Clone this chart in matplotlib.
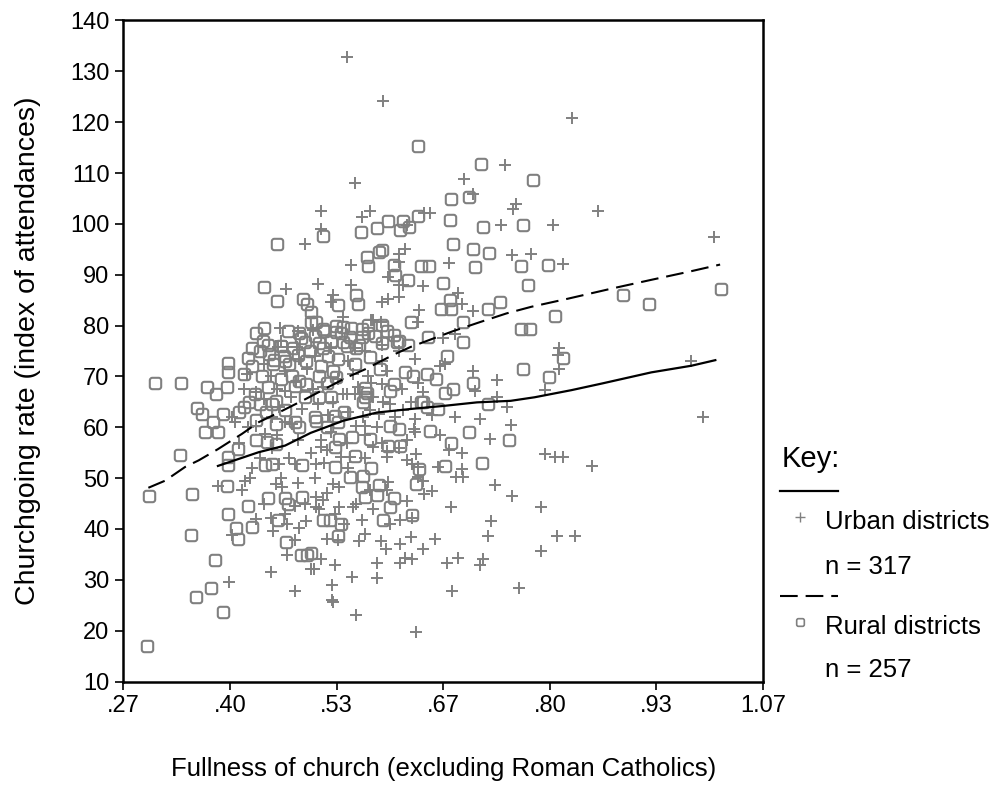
import matplotlib
matplotlib.use("Agg")
import matplotlib.pyplot as plt
from matplotlib.lines import Line2D
from matplotlib.markers import MarkerStyle
from matplotlib.path import Path

plt.rcParams['font.family'] = ['Liberation Sans', 'DejaVu Sans']

# x tick positions are multiples of 2/15 (labels rounded to 2 places)
x_ticks = [4 / 15, 6 / 15, 8 / 15, 10 / 15, 12 / 15, 14 / 15, 16 / 15]
x_labels = ['.27', '.40', '.53', '.67', '.80', '.93', '1.07']
y_ticks = list(range(10, 141, 10))

# Urban districts (+)
urban_points = [
    (0.547, 132.8), (0.592, 124.1), (0.744, 111.6), (0.693, 108.8), (0.556, 108.0), (0.828, 120.9),
    (0.494, 96.0), (0.470, 87.1), (0.463, 79.6), (0.460, 75.8), (0.471, 75.8), (0.484, 75.8),
    (0.704, 105.9), (0.758, 103.9), (0.754, 102.9), (0.514, 102.6), (0.565, 101.3), (0.575, 102.6),
    (0.643, 102.2), (0.650, 102.2), (0.621, 99.7), (0.739, 99.8), (0.514, 99.0), (0.753, 93.8),
    (0.777, 94.1), (0.619, 95.1), (0.552, 92.0), (0.611, 94.1), (0.611, 92.5), (0.674, 92.4),
    (0.510, 88.1), (0.552, 87.9), (0.598, 89.6), (0.611, 87.9), (0.616, 87.9), (0.641, 87.8),
    (0.685, 86.5), (0.529, 86.1), (0.527, 84.7), (0.590, 84.7), (0.598, 85.3), (0.611, 85.6),
    (0.690, 84.3), (0.704, 82.8), (0.637, 83.0), (0.635, 80.7), (0.589, 80.7), (0.579, 81.1),
    (0.667, 77.5), (0.681, 78.3), (0.504, 79.1), (0.542, 81.7), (0.577, 81.1), (0.556, 75.5),
    (0.590, 76.2),
    (0.860, 102.6), (0.804, 99.7), (1.005, 97.4), (0.817, 92.2), (0.812, 75.5),
    (0.421, 70.4), (0.402, 62.0), (0.385, 48.4), (0.419, 49.5), (0.425, 50.0), (0.415, 47.6),
    (0.457, 48.9), (0.465, 48.2), (0.482, 44.6), (0.494, 45.0), (0.461, 52.8), (0.481, 52.8),
    (0.444, 58.7), (0.459, 58.4), (0.433, 60.3), (0.452, 62.0), (0.469, 61.0), (0.478, 60.6),
    (0.461, 63.9), (0.469, 67.2), (0.486, 73.4),
    (0.399, 29.6), (0.402, 38.9), (0.451, 42.2), (0.454, 39.6), (0.471, 40.9), (0.486, 40.2),
    (0.482, 37.9), (0.471, 34.8), (0.451, 31.5), (0.481, 27.8), (0.501, 32.1),
    (0.727, 41.5), (0.723, 38.7), (0.656, 38.1), (0.562, 37.7), (0.589, 37.7), (0.613, 37.1),
    (0.521, 38.1), (0.535, 37.9), (0.565, 41.8), (0.600, 40.9), (0.613, 41.8), (0.628, 42.2),
    (0.514, 34.0), (0.531, 33.0), (0.505, 32.1), (0.584, 33.4), (0.613, 33.4), (0.619, 34.3),
    (0.628, 34.0), (0.671, 33.4), (0.685, 34.3), (0.713, 33.0), (0.716, 34.0), (0.553, 30.6),
    (0.584, 30.3), (0.528, 28.9), (0.528, 26.1), (0.529, 25.7), (0.558, 23.1), (0.633, 19.8),
    (0.678, 27.8), (0.761, 28.3), (0.789, 35.6), (0.809, 38.6), (0.832, 38.6),
    (0.977, 73.0), (0.992, 62.1), (0.794, 54.8), (0.806, 54.2), (0.816, 54.1), (0.853, 52.4),
    (0.789, 44.3), (0.794, 67.3), (0.812, 71.4), (0.810, 74.3),
    (0.704, 71.1), (0.734, 69.3), (0.706, 67.2), (0.669, 72.4), (0.734, 65.9), (0.746, 63.9),
    (0.681, 62.0), (0.713, 61.6), (0.751, 60.5), (0.725, 57.7), (0.690, 54.9), (0.690, 51.8),
    (0.691, 50.3), (0.683, 50.2), (0.732, 48.6), (0.753, 46.4), (0.677, 44.3), (0.660, 52.2),
    (0.631, 61.6), (0.631, 59.0), (0.635, 52.2), (0.635, 50.2), (0.621, 53.5), (0.628, 52.8),
    (0.641, 49.5), (0.643, 46.9), (0.598, 49.2), (0.596, 47.6), (0.508, 52.8), (0.518, 52.9),
    (0.550, 54.1), (0.539, 54.1), (0.596, 55.4), (0.596, 54.1), (0.633, 54.8), (0.514, 56.1),
    (0.514, 57.4), (0.579, 56.1), (0.558, 60.3), (0.569, 60.3), (0.584, 60.0), (0.630, 59.7),
    (0.575, 63.3), (0.586, 62.6), (0.600, 64.6), (0.617, 63.3), (0.626, 64.9), (0.635, 68.8),
    (0.590, 68.5), (0.596, 71.1), (0.577, 68.8), (0.556, 66.5), (0.546, 66.5), (0.508, 46.3),
    (0.516, 45.6), (0.508, 44.3), (0.529, 48.9), (0.537, 48.2), (0.575, 47.6), (0.554, 44.3),
    (0.537, 44.3),
    # dense core, estimated
    (0.432, 67.0), (0.443, 65.5), (0.451, 70.0), (0.459, 67.5), (0.469, 71.0), (0.476, 66.0),
    (0.483, 69.0), (0.490, 63.5), (0.497, 71.5), (0.504, 67.5), (0.510, 64.5), (0.516, 68.0),
    (0.523, 62.5), (0.529, 65.0), (0.535, 69.5), (0.542, 66.5), (0.548, 63.0), (0.554, 70.5),
    (0.560, 68.0), (0.567, 62.0), (0.573, 70.0), (0.579, 66.0), (0.592, 65.0), (0.607, 62.0),
    (0.615, 67.5), (0.621, 57.5), (0.611, 56.0), (0.569, 58.5), (0.546, 57.0), (0.527, 59.0),
    (0.485, 57.5), (0.474, 54.0), (0.501, 55.0), (0.522, 55.5), (0.548, 52.0), (0.569, 54.0),
    (0.590, 57.0), (0.453, 56.0), (0.438, 54.0), (0.427, 52.0), (0.464, 50.0), (0.485, 49.0),
    (0.506, 50.0), (0.522, 47.0), (0.558, 45.0), (0.579, 44.0), (0.621, 45.5), (0.653, 47.5),
    (0.674, 55.5), (0.663, 58.5), (0.653, 62.5), (0.642, 67.0), (0.663, 72.0), (0.632, 73.5),
    (0.611, 75.0), (0.590, 73.0), (0.569, 75.0), (0.548, 73.0), (0.527, 75.5), (0.506, 74.0),
    (0.485, 79.0), (0.464, 77.0), (0.443, 72.5), (0.422, 60.0), (0.411, 57.0), (0.406, 61.0),
    (0.417, 67.5), (0.432, 42.0), (0.443, 45.0), (0.469, 43.0), (0.495, 41.5), (0.543, 41.0),
    (0.569, 39.0), (0.595, 36.0), (0.627, 38.5), (0.642, 36.0), (0.511, 44.0), (0.532, 43.0),
]

# Rural districts (rounded squares)
rural_points = [
    (0.635, 115.3), (0.714, 111.8), (0.779, 108.6),
    (0.459, 96.1), (0.442, 87.5), (0.459, 84.9), (0.492, 85.2), (0.496, 84.3), (0.442, 79.6),
    (0.472, 78.9), (0.486, 78.5), (0.501, 80.7), (0.427, 75.5), (0.448, 76.2), (0.494, 76.8),
    (0.677, 104.8), (0.699, 105.2), (0.635, 101.6), (0.564, 98.5), (0.584, 99.2), (0.598, 100.5),
    (0.616, 100.5), (0.613, 98.7), (0.624, 99.3), (0.675, 100.8), (0.716, 99.3), (0.767, 99.7),
    (0.516, 97.7), (0.679, 96.1), (0.704, 95.0), (0.724, 94.3), (0.764, 91.8), (0.707, 91.5),
    (0.572, 93.5), (0.586, 94.4), (0.590, 94.8), (0.573, 91.8), (0.605, 92.0), (0.639, 91.7),
    (0.649, 91.7), (0.667, 88.3), (0.606, 90.0), (0.623, 89.0), (0.773, 87.9), (0.558, 86.0),
    (0.535, 84.1), (0.560, 84.3), (0.675, 85.0), (0.664, 83.2), (0.677, 83.2), (0.723, 83.2),
    (0.738, 84.7), (0.764, 79.4), (0.775, 79.4), (0.501, 82.7), (0.626, 80.7), (0.692, 80.7),
    (0.648, 77.8), (0.692, 76.7),
    (0.508, 80.7), (0.516, 79.4), (0.533, 78.8), (0.542, 79.8), (0.550, 77.8), (0.565, 79.4),
    (0.573, 78.5), (0.590, 80.1), (0.605, 78.1), (0.609, 76.8), (0.623, 76.2), (0.516, 75.5),
    (0.542, 76.8), (0.562, 76.2),
    (0.798, 92.0), (0.891, 86.0), (0.924, 84.3), (1.014, 87.1), (0.806, 81.9),
    (0.306, 68.7), (0.339, 68.7), (0.371, 68.0), (0.383, 66.6), (0.396, 68.0), (0.398, 72.7),
    (0.398, 70.8), (0.422, 73.6), (0.440, 70.1), (0.431, 66.6), (0.359, 63.8), (0.365, 62.7),
    (0.391, 62.7), (0.379, 61.0), (0.369, 59.0), (0.385, 59.0), (0.337, 54.6), (0.299, 46.4),
    (0.353, 46.8), (0.396, 48.4), (0.398, 52.5), (0.398, 54.1), (0.410, 55.7), (0.422, 44.5),
    (0.398, 43.0), (0.448, 46.0), (0.469, 46.0), (0.473, 45.0), (0.490, 46.3), (0.444, 52.5),
    (0.452, 52.8), (0.490, 52.5), (0.433, 57.4), (0.446, 57.1), (0.457, 56.7), (0.457, 60.6),
    (0.482, 61.0), (0.486, 60.0), (0.438, 64.6), (0.452, 64.6), (0.457, 65.2), (0.469, 63.3),
    (0.454, 72.4), (0.469, 73.0), (0.478, 70.1), (0.486, 69.1), (0.482, 68.1), (0.494, 65.9),
    (0.296, 17.0), (0.351, 38.9), (0.357, 26.7), (0.376, 28.3), (0.381, 33.8), (0.391, 23.6),
    (0.408, 40.2), (0.410, 38.1), (0.428, 40.4), (0.460, 41.7), (0.470, 37.4), (0.489, 34.8),
    (0.497, 34.8),
    (0.535, 38.6), (0.539, 40.9), (0.516, 41.7), (0.525, 41.7), (0.592, 41.8), (0.628, 42.8),
    (0.502, 35.3), (0.799, 69.9), (0.817, 73.6),
    (0.766, 71.4), (0.671, 74.0), (0.704, 68.8), (0.679, 67.5), (0.669, 66.8), (0.723, 64.6),
    (0.699, 59.0), (0.749, 57.4), (0.677, 57.0), (0.715, 52.9), (0.669, 52.3), (0.650, 59.3),
    (0.660, 63.6), (0.639, 64.9), (0.646, 64.0), (0.633, 48.9), (0.637, 51.8), (0.605, 46.0),
    (0.584, 46.6), (0.586, 48.6), (0.600, 44.3), (0.577, 52.0), (0.567, 50.5), (0.550, 50.2),
    (0.531, 52.2), (0.556, 54.4), (0.598, 56.4), (0.613, 56.4), (0.531, 56.1), (0.537, 57.7),
    (0.575, 57.7), (0.508, 61.3), (0.535, 61.0), (0.600, 60.3), (0.611, 59.7), (0.531, 62.3),
    (0.567, 64.9), (0.569, 65.9), (0.641, 64.9), (0.629, 70.1), (0.646, 70.4), (0.658, 69.5),
    (0.619, 70.8), (0.605, 68.5), (0.600, 67.2), (0.569, 67.8), (0.571, 66.8), (0.512, 65.9),
    (0.529, 71.1), (0.533, 69.8), (0.521, 68.8), (0.565, 48.2), (0.569, 46.3),
    # dense core, estimated
    (0.432, 78.5), (0.441, 77.0), (0.449, 74.5), (0.455, 73.2), (0.464, 76.0), (0.467, 74.0),
    (0.474, 72.5), (0.479, 75.5), (0.485, 74.2), (0.489, 77.5), (0.495, 73.0), (0.500, 75.0),
    (0.506, 78.0), (0.512, 76.5), (0.518, 79.0), (0.523, 74.0), (0.527, 77.0), (0.533, 80.0),
    (0.539, 78.5), (0.546, 76.0), (0.552, 79.5), (0.558, 75.5), (0.565, 77.8), (0.573, 80.2),
    (0.581, 78.0), (0.590, 76.5), (0.596, 79.0), (0.611, 77.0), (0.514, 72.0), (0.535, 73.5),
    (0.556, 72.5), (0.575, 73.8), (0.588, 71.5), (0.464, 69.5), (0.447, 68.0), (0.424, 65.0),
    (0.418, 64.0), (0.411, 63.0), (0.432, 61.5), (0.445, 63.0), (0.506, 62.0), (0.522, 60.0),
    (0.553, 58.0), (0.527, 66.0), (0.543, 63.0), (0.495, 68.5), (0.511, 70.0), (0.427, 72.0),
    (0.417, 70.5), (0.437, 75.0),
]

# fitted curves
urban_fit_x = [0.385, 0.436, 0.469, 0.501, 0.542, 0.584, 0.626, 0.667, 0.709, 0.751, 0.781,
               0.827, 0.865, 0.927, 0.977, 1.007]
urban_fit_y = [52.4, 55.1, 56.4, 58.9, 61.3, 62.9, 63.6, 64.2, 64.9, 65.2, 65.9,
               67.3, 68.6, 70.8, 72.1, 73.2]
rural_fit_x = [0.298, 0.319, 0.344, 0.361, 0.385, 0.415, 0.436, 0.461, 0.494, 0.546, 0.569,
               0.605, 0.626, 0.679, 0.713, 0.746, 0.777, 0.823, 0.878, 0.927, 0.977, 1.013]
rural_fit_y = [48.1, 49.5, 52.2, 53.5, 55.7, 58.7, 61.0, 62.9, 65.5, 69.8, 71.4,
               74.3, 75.8, 78.9, 80.7, 82.4, 83.7, 85.3, 87.3, 89.0, 90.7, 92.0]

grey = '#808080'
dash = (8.5, 3.8)

# rounded square marker
r = 0.45
verts = [(-1 + r, -1), (1 - r, -1), (1, -1), (1, -1 + r), (1, 1 - r), (1, 1), (1 - r, 1),
         (-1 + r, 1), (-1, 1), (-1, 1 - r), (-1, -1 + r), (-1, -1), (-1 + r, -1), (0, 0)]
codes = [Path.MOVETO, Path.LINETO, Path.CURVE3, Path.CURVE3, Path.LINETO, Path.CURVE3,
         Path.CURVE3, Path.LINETO, Path.CURVE3, Path.CURVE3, Path.LINETO, Path.CURVE3,
         Path.CURVE3, Path.CLOSEPOLY]
square = MarkerStyle(Path(verts, codes))

fig = plt.figure(figsize=(9.96, 8.07), dpi=100)
ax = fig.add_axes((0.1238, 0.1555, 0.6423, 0.8191))

ux, uy = zip(*urban_points)
rx, ry = zip(*rural_points)
ax.plot(ux, uy, linestyle='none', marker='+', ms=8.6, mew=1.4, color=grey)
ax.plot(rx, ry, linestyle='none', marker=square, ms=8.2, mew=1.5, mfc='none', mec=grey)
ax.plot(urban_fit_x, urban_fit_y, color='black', lw=1.6)
ax.plot(rural_fit_x, rural_fit_y, color='black', lw=1.5, dashes=dash)

ax.set_xlim(x_ticks[0], x_ticks[-1])
ax.set_ylim(10, 140)
ax.set_xticks(x_ticks)
ax.set_xticklabels(x_labels)
ax.set_yticks(y_ticks)
ax.tick_params(direction='out', length=6, width=1.2, labelsize=17, pad=4)
for s in ax.spines.values():
    s.set_linewidth(1.8)

fig.text(0.028, 0.565, 'Churchgoing rate (index of attendances)', rotation=90,
         ha='center', va='center', fontsize=20.5)
fig.text(0.445, 0.047, 'Fullness of church (excluding Roman Catholics)',
         ha='center', va='center', fontsize=18.5)

# key, drawn outside the axes
fig.text(0.785, 0.431, 'Key:', fontsize=21, va='center')
fig.add_artist(Line2D([0.783, 0.841], [0.392, 0.392], color='black', lw=1.6))
fig.add_artist(Line2D([0.803], [0.3597], marker='+', ms=7, mew=1.0, color=grey))
fig.text(0.8283, 0.3535, 'Urban districts', fontsize=18.5, va='center')
fig.text(0.8283, 0.2978, 'n = 317', fontsize=18.5, va='center')
fig.add_artist(Line2D([0.783, 0.841], [0.2615, 0.2615], color='black', lw=1.5,
                      dashes=dash))
fig.add_artist(Line2D([0.803], [0.2296], marker=square, ms=5.5, mew=1.2, mfc='none',
                      mec=grey))
fig.text(0.8283, 0.2234, 'Rural districts', fontsize=18.5, va='center')
fig.text(0.8283, 0.1698, 'n = 257', fontsize=18.5, va='center')

fig.savefig('out.png', dpi=100)
